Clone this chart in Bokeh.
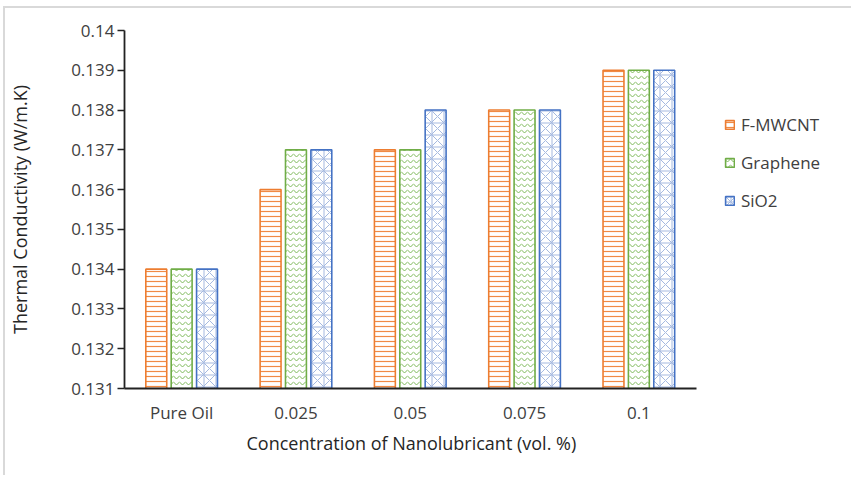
from bokeh.plotting import figure
from bokeh.models import ColumnDataSource, FixedTicker, Legend, LegendItem, Title
from bokeh.transform import dodge
from bokeh.embed import file_html
from bokeh.resources import INLINE

categories = ["Pure Oil", "0.025", "0.05", "0.075", "0.1"]
f_mwcnt = [0.134, 0.136, 0.137, 0.138, 0.139]
graphene = [0.134, 0.137, 0.137, 0.138, 0.139]
sio2 = [0.134, 0.137, 0.138, 0.138, 0.139]
y_ticks = [0.131, 0.132, 0.133, 0.134, 0.135, 0.136, 0.137, 0.138, 0.139, 0.14]
y_tick_labels = ["0.131", "0.132", "0.133", "0.134", "0.135", "0.136", "0.137",
                 "0.138", "0.139", "0.14"]

FONT = "Open Sans"

n = len(categories)
xpos = [i + 0.5 for i in range(n)]
src = ColumnDataSource(dict(x=xpos, cat=categories, f=f_mwcnt, g=graphene, s=sio2))

# frame spans canvas x 112..848 (736 px); category axis occupies 577 px of it
x_end = n * 736 / 577

p = figure(width=848, height=469, x_range=(0, x_end),
           y_range=(0.131, 0.14), output_backend="svg", toolbar_location=None,
           min_border_left=112, min_border_right=0, min_border_top=22,
           min_border_bottom=89)
p.styles = {"margin-top": "6px", "margin-left": "3px",
            "border-top": "2px solid #d9d9d9", "border-left": "2px solid #d9d9d9"}
p.outline_line_color = None
p.xgrid.grid_line_color = None
p.ygrid.grid_line_color = None
p.background_fill_color = "white"
p.border_fill_color = "white"

bw = 0.183
off = 0.222
common = dict(bottom=0.131, width=bw, source=src, fill_color="white", line_width=1.6)
r1 = p.vbar(x=dodge("x", -off), top="f", line_color="#ED7D31",
            hatch_pattern="horizontal_line", hatch_color="#F08A45", hatch_scale=5,
            hatch_weight=1.2, **common)
r2 = p.vbar(x=dodge("x", 0), top="g", line_color="#70AD47",
            hatch_pattern="horizontal_wave", hatch_color="#7DB85A", hatch_scale=6,
            hatch_weight=1.0, **common)
r3 = p.vbar(x=dodge("x", off), top="s", line_color="#4472C4",
            hatch_pattern="criss_cross", hatch_color="#A5B9E0", hatch_scale=12,
            hatch_weight=1.0, **common)

# axes
p.yaxis.ticker = FixedTicker(ticks=y_ticks)
p.yaxis.major_label_overrides = {t: l for t, l in zip(y_ticks, y_tick_labels)}
p.yaxis.minor_tick_line_color = None
p.yaxis.major_tick_out = 7
p.yaxis.major_tick_in = 0
p.yaxis.major_tick_line_color = "#222222"
p.yaxis.major_tick_line_width = 1.5
p.yaxis.axis_line_color = "#222222"
p.yaxis.axis_line_width = 1.8
p.yaxis.major_label_standoff = 3
p.yaxis.axis_label = "Thermal Conductivity (W/m.K)"
p.yaxis.axis_label_standoff = 36

p.xaxis.bounds = (0, n)
p.xaxis.ticker = FixedTicker(ticks=xpos)
p.xaxis.major_label_overrides = {x: c for x, c in zip(xpos, categories)}
p.xaxis.major_tick_line_color = None
p.xaxis.minor_tick_line_color = None
p.xaxis.axis_line_color = "#222222"
p.xaxis.axis_line_width = 1.8
p.xaxis.major_label_standoff = 6

for ax in (p.xaxis, p.yaxis):
    ax.major_label_text_font = FONT
    ax.major_label_text_font_size = "17px"
    ax.major_label_text_color = "#404040"
    ax.axis_label_text_font = FONT
    ax.axis_label_text_font_size = "18px"
    ax.axis_label_text_font_style = "normal"
    ax.axis_label_text_color = "#262626"

# x-axis title, placed under the category axis rather than the whole frame
xtitle = Title(text="Concentration of Nanolubricant (vol. %)", align="left",
               offset=122, text_font=FONT, text_font_size="18px",
               text_font_style="normal", text_color="#262626", standoff=4)
p.add_layout(xtitle, "below")

legend = Legend(items=[LegendItem(label="F-MWCNT", renderers=[r1]),
                       LegendItem(label="Graphene", renderers=[r2]),
                       LegendItem(label="SiO2", renderers=[r3])],
                location=(600, 176), orientation="vertical")
legend.border_line_color = None
legend.background_fill_alpha = 0
legend.padding = 0
legend.margin = 0
legend.glyph_width = 11
legend.glyph_height = 11
legend.label_height = 20
legend.spacing = 15
legend.label_standoff = 6
legend.label_text_font = FONT
legend.label_text_font_size = "17px"
legend.label_text_color = "#404040"
p.add_layout(legend, "center")

open("out.html", "w").write(file_html(p, INLINE))
